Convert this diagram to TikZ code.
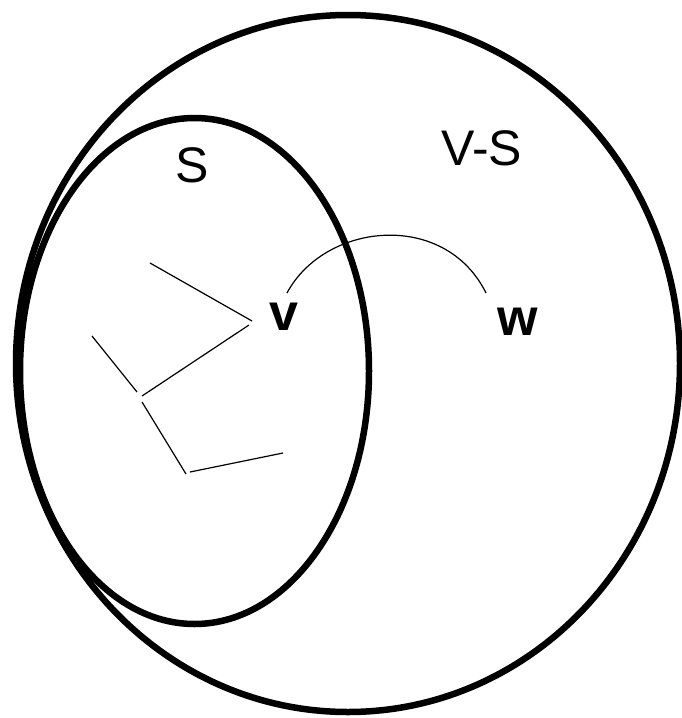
\documentclass[tikz,border=0pt]{standalone}
\usepackage{fontspec}
\setmainfont{Liberation Sans}
\begin{document}
\begin{tikzpicture}[x=1pt,y=-1pt,
  setline/.style={line width=6.5pt},
  thinline/.style={line width=1.2pt},
  setlabel/.style={font=\fontsize{50}{60}\selectfont, inner sep=0pt, anchor=base},
  vertlabel/.style={font=\fontsize{52}{60}\selectfont\bfseries, inner sep=0pt, anchor=base}]
\useasboundingbox (0,0) rectangle (682,718);
% sets
\draw[setline] (348,363.5) ellipse [x radius=332, y radius=348.5];
\draw[setline] (194.5,371) ellipse [x radius=174.5, y radius=253];
% labels
\node[setlabel] (S) at (192,182) {S};
\node[setlabel] (VS) at (482,165) {V-S};
\node[vertlabel] (v) at (284,330) {v};
\node[vertlabel] (w) at (518,335) {w};
% tree edges inside S
\coordinate (a1) at (150,263);
\coordinate (a2) at (252,321);
\coordinate (b1) at (249,325);
\coordinate (b2) at (142,396);
\coordinate (c1) at (92,336);
\coordinate (c2) at (137,392);
\coordinate (d1) at (142,402);
\coordinate (d2) at (186,474);
\coordinate (e1) at (190,472);
\coordinate (e2) at (283,453);
\draw[thinline] (a1) -- (a2);
\draw[thinline] (b1) -- (b2);
\draw[thinline] (c1) -- (c2);
\draw[thinline] (d1) -- (d2);
\draw[thinline] (e1) -- (e2);
% edge from v to w
\coordinate (vw1) at (287,293);
\coordinate (vw2) at (486,293);
\draw[thinline] (vw1) .. controls (325,222) and (445,210) .. (vw2);
\end{tikzpicture}
\end{document}
